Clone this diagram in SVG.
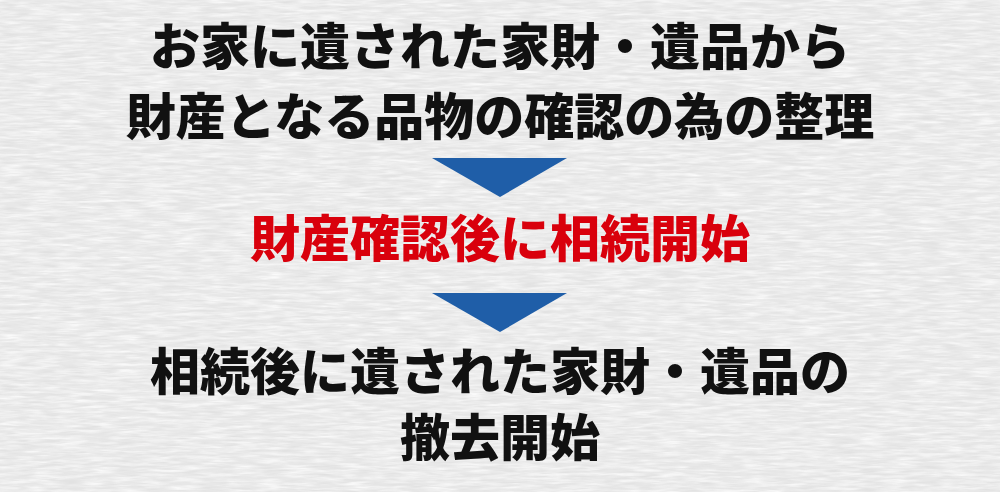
<svg xmlns="http://www.w3.org/2000/svg" width="1000" height="492" viewBox="0 0 1000 492">
  <defs>
    <filter id="paper" x="0" y="0" width="100%" height="100%">
      <feTurbulence type="fractalNoise" baseFrequency="0.035 0.3" numOctaves="3" seed="7" result="n"/>
      <feColorMatrix in="n" type="matrix" values="0 0 0 0 1  0 0 0 0 1  0 0 0 0 1  0 0 0 -1.5 1.0" result="w"/>
      <feComposite in="w" in2="SourceGraphic" operator="in"/>
    </filter>
    <filter id="paper2" x="0" y="0" width="100%" height="100%">
      <feTurbulence type="fractalNoise" baseFrequency="0.05 0.5" numOctaves="2" seed="3" result="n"/>
      <feColorMatrix in="n" type="matrix" values="0 0 0 0 0.7  0 0 0 0 0.7  0 0 0 0 0.7  0 0 0 1.2 -0.5"/>
      <feComposite in2="SourceGraphic" operator="in"/>
    </filter>
  </defs>
  <style>
    .t { font-family: "Noto Sans CJK JP", "Noto Sans CJK SC", sans-serif; font-weight: 900; font-size: 50px; text-anchor: middle; fill: #111111; }
    .red { fill: #d9000c; }
    .arrow { fill: #1f5ea8; }
  </style>
  <rect id="background" x="0" y="0" width="1000" height="492" fill="#e8e8e8"/>
  <rect x="0" y="0" width="1000" height="492" fill="#e8e8e8" filter="url(#paper)"/>
  <rect x="0" y="0" width="1000" height="492" fill="#e8e8e8" filter="url(#paper2)"/>
  <g id="node-1">
    <text class="t" x="500" y="65">お家に遺された家財・遺品から</text>
    <text class="t" x="500" y="135">財産となる品物の確認の為の整理</text>
  </g>
  <g id="node-2">
    <text class="t red" x="500" y="257">財産確認後に相続開始</text>
  </g>
  <g id="node-3">
    <text class="t" x="500" y="390">相続後に遺された家財・遺品の</text>
    <text class="t" x="500" y="456">撤去開始</text>
  </g>
  <g id="connectors">
    <polygon class="arrow" points="432,158 567,158 500,197"/>
    <polygon class="arrow" points="432,293 567,293 500,332"/>
  </g>
</svg>
